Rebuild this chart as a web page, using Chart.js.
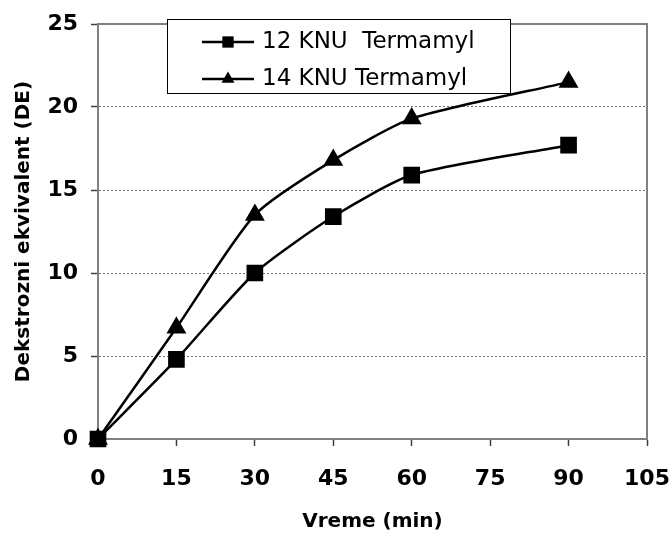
<!DOCTYPE html>
<html lang="sr">
<head>
  <meta charset="UTF-8" />
  <title>Dekstrozni ekvivalent</title>
  <script src="https://cdn.jsdelivr.net/npm/chart.js"></script>
  <style>
    body {
      margin: 0;
      padding: 0;
      background: #ffffff;
    }

    .chart-box {
      width: 669px;
      height: 537px;
      position: relative;
    }
  </style>
</head>
<body>

  <div class="chart-box">
    <canvas id="deChart"></canvas>
  </div>

  <script>
    // data
    const times = [0, 15, 30, 45, 60, 90];
    const knu12 = [0, 4.8, 10, 13.4, 15.9, 17.7];
    const knu14 = [0, 6.7, 13.5, 16.8, 19.3, 21.5];
    const seriesLabels = ['12 KNU  Termamyl', '14 KNU Termamyl'];
    const xTicks = [0, 15, 30, 45, 60, 75, 90, 105];
    const yTicks = [0, 5, 10, 15, 20, 25];

    const toPoints = (vals) => times.map((t, i) => ({ x: t, y: vals[i] }));

    Chart.defaults.font.family = "'DejaVu Sans', sans-serif";
    Chart.defaults.color = '#000000';

    // frame round the plot area (top and right sides are not drawn by the axes)
    const frame = {
      id: 'frame',
      beforeDatasetsDraw(chart) {
        const { ctx, chartArea: a } = chart;
        ctx.save();
        ctx.strokeStyle = '#808080';
        ctx.lineWidth = 2;
        ctx.strokeRect(a.left, a.top, a.right - a.left, a.bottom - a.top);
        ctx.restore();
      }
    };

    // boxed legend sitting over the top of the plot
    const boxLegend = {
      id: 'boxLegend',
      afterDraw(chart) {
        const ctx = chart.ctx;
        const box = { x: 167.5, y: 19.5, w: 343, h: 74 };
        const rows = [42, 79];
        ctx.save();
        ctx.fillStyle = '#ffffff';
        ctx.fillRect(box.x, box.y, box.w, box.h);
        ctx.strokeStyle = '#000000';
        ctx.lineWidth = 1;
        ctx.strokeRect(box.x, box.y, box.w, box.h);

        chart.data.datasets.forEach((ds, i) => {
          const y = rows[i];
          ctx.strokeStyle = '#000000';
          ctx.lineWidth = 2.5;
          ctx.beginPath();
          ctx.moveTo(202, y);
          ctx.lineTo(254, y);
          ctx.stroke();

          ctx.fillStyle = '#000000';
          if (Chart.helpers && Chart.helpers.drawPoint) {
            Chart.helpers.drawPoint(ctx, {
              pointStyle: ds.pointStyle,
              radius: ds.pointStyle === 'triangle' ? 7.5 : 8,
              rotation: 0,
              borderWidth: 0
            }, 228, y);
          }

          ctx.font = "23px 'DejaVu Sans', sans-serif";
          ctx.textBaseline = 'middle';
          ctx.textAlign = 'left';
          ctx.fillText(ds.label, 262, y);
        });
        ctx.restore();
      }
    };

    const gridColor = (c) =>
      (c.tick && (c.tick.value === 0 || c.tick.value === 25)) ? 'rgba(0,0,0,0)' : '#707070';

    new Chart(document.getElementById('deChart'), {
      type: 'line',
      data: {
        datasets: [
          {
            label: seriesLabels[0],
            data: toPoints(knu12),
            borderColor: '#000000',
            backgroundColor: '#000000',
            borderWidth: 2.5,
            pointStyle: 'rect',
            pointRadius: 10,
            pointHoverRadius: 10,
            tension: 0.22,
            clip: false
          },
          {
            label: seriesLabels[1],
            data: toPoints(knu14),
            borderColor: '#000000',
            backgroundColor: '#000000',
            borderWidth: 2.5,
            pointStyle: 'triangle',
            pointRadius: 9,
            pointHoverRadius: 9,
            tension: 0.22,
            clip: false
          }
        ]
      },
      options: {
        responsive: true,
        maintainAspectRatio: false,
        animation: false,
        layout: {
          padding: { top: 24, right: 22, left: 0, bottom: 0 }
        },
        plugins: {
          legend: { display: false },
          tooltip: { enabled: false }
        },
        scales: {
          x: {
            type: 'linear',
            min: 0,
            max: 105,
            afterFit(scale) {
              scale.height = 98;
              scale.paddingLeft = 0;
              scale.paddingRight = 0;
            },
            afterBuildTicks(scale) { scale.ticks = xTicks.map(v => ({ value: v })); },
            ticks: {
              font: { size: 22, weight: 'bold' },
              padding: 20,
              maxRotation: 0
            },
            grid: {
              drawOnChartArea: false,
              tickLength: 7,
              tickColor: '#404040',
              tickWidth: 1.5
            },
            border: { color: '#808080', width: 2 },
            title: {
              display: true,
              text: 'Vreme (min)',
              font: { size: 20, weight: 'bold' },
              padding: { top: 0, bottom: 3 }
            }
          },
          y: {
            min: 0,
            max: 25,
            afterFit(scale) {
              scale.width = 98;
              scale.paddingTop = 0;
              scale.paddingBottom = 0;
            },
            afterBuildTicks(scale) { scale.ticks = yTicks.map(v => ({ value: v })); },
            ticks: {
              font: { size: 22, weight: 'bold' },
              padding: 13
            },
            grid: {
              color: gridColor,
              lineWidth: 1,
              tickLength: 7,
              tickColor: '#404040',
              tickWidth: 1.5,
              tickBorderDash: []
            },
            border: { color: '#808080', width: 2, dash: [2, 2] },
            title: {
              display: true,
              text: 'Dekstrozni ekvivalent (DE)',
              font: { size: 20, weight: 'bold' },
              padding: { top: 12, bottom: 0 }
            }
          }
        }
      },
      plugins: [frame, boxLegend]
    });
  </script>
</body>
</html>
